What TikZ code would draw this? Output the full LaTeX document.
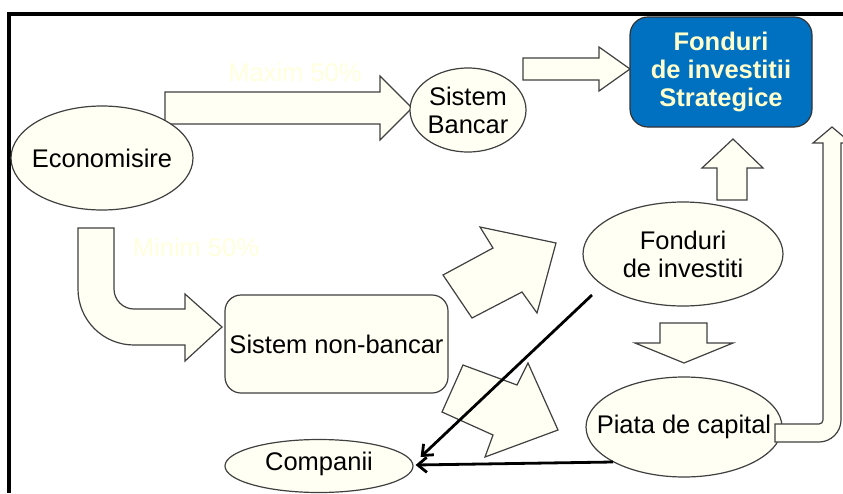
\documentclass[tikz,border=0pt]{standalone}
\usepackage{fontspec}
\setmainfont{Liberation Sans}
\usetikzlibrary{shapes.geometric,arrows.meta,calc}
\definecolor{cream}{RGB}{255,255,243}
\definecolor{edge}{RGB}{64,64,64}
\definecolor{notecol}{RGB}{255,255,222}
\definecolor{fsblue}{RGB}{0,112,192}
\definecolor{fstext}{RGB}{255,255,204}
\begin{document}
\begin{tikzpicture}[x=1pt,y=-1pt,
  every node/.style={font=\fontsize{25.5}{28}\selectfont, align=center, inner sep=0pt},
  bubble/.style={ellipse, draw=edge, fill=cream, line width=1.2pt},
  panel/.style={rectangle, rounded corners=16pt, draw=edge, fill=cream, line width=1.2pt},
  fsbox/.style={rectangle, rounded corners=18pt, draw=black!80, fill=fsblue, line width=1.2pt, text=fstext},
  blockarrow/.style={draw=edge, fill=cream, line width=1.2pt, line join=miter},
  link/.style={draw=black, line width=2.8pt, -{Straight Barb[length=9pt,width=15pt]}},
  note/.style={text=notecol}]
\useasboundingbox (0,0) rectangle (843,493);
\clip (0,0) rectangle (843,493);
\fill[white] (0,0) rectangle (843,493);

% frame
\fill[black] (7,12) rectangle (843,16);
\fill[black] (7,12) rectangle (11,493);

% block arrows
\draw[blockarrow] (165,92) -- (380,92) -- (380,76) -- (412,108) -- (380,140) -- (380,124) -- (165,124) -- cycle;
\draw[blockarrow] (523,58) -- (599,58) -- (599,47) -- (630,69) -- (599,91) -- (599,80) -- (523,80) -- cycle;
\draw[blockarrow] (717,200) -- (717,168) -- (702,168) -- (733,139) -- (763,168) -- (747,168) -- (747,200) -- cycle;
\draw[blockarrow] (660,323) -- (707,323) -- (707,343) -- (733,343) -- (684,363) -- (635,343) -- (660,343) -- cycle;
\draw[blockarrow] (78,228) -- (114,228) -- (114,289) .. controls (114,300) and (123,309) .. (134,309)
  -- (185,309) -- (185,294) -- (222,327) -- (185,361) -- (185,345) -- (134,345)
  .. controls (103,345) and (78,320) .. (78,289) -- cycle;
\draw[blockarrow] (443,275) -- (493,248) -- (480,227) -- (556,243) -- (537,313) -- (522,292) -- (472,318) -- cycle;
\draw[blockarrow] (463,365) -- (517,385) -- (528,363) -- (558,430) -- (485,457) -- (493,435) -- (442,412) -- cycle;

% labels on the arrows
\node[note] (maxl) at (295,72) {Maxim 50\%};
\node[note] (minl) at (196,247) {Minim 50\%};

% nodes
\node[bubble, minimum width=182pt, minimum height=104pt] (eco) at (102,158) {};
\node at (eco) {Economisire};
\node[bubble, minimum width=116pt, minimum height=84pt] (sb) at (468,110) {};
\node at (sb) {Sistem\\Bancar};
\node[fsbox, minimum width=182pt, minimum height=110pt] (fs) at (721,72) {\bfseries Fonduri\\ \bfseries de investitii\\ \bfseries Strategice};
\node[panel, minimum width=223pt, minimum height=98pt] (nb) at (336.5,344) {};
\node at (nb) {Sistem non-bancar};
\node[bubble, minimum width=200pt, minimum height=104pt] (fi) at (683,254) {};
\node at (fi) {Fonduri\\de investiti};
\node[bubble, minimum width=196pt, minimum height=100pt] (pc) at (684,427) {};
\node at (pc) {Piata de capital};
\node[bubble, minimum width=188pt, minimum height=53pt] (comp) at (319,466) {};
\node at ($(comp)+(0,-2)$) {Companii};

% bent arrow from the capital market up to the strategic funds
\draw[blockarrow] (775,424) -- (819,424) .. controls (821.2,424) and (823,422.2) .. (823,420)
  -- (823,143) -- (813,143) -- (832,127) -- (851,143) -- (841,143) -- (841,420)
  .. controls (841,432) and (831,442) .. (819,442) -- (775,442) -- cycle;

% flows to the companies
\coordinate (fiout) at (592,295);
\coordinate (pcout) at (613,462);
\draw[link] (fiout) -- ($(comp.east)+(7,-9)$);
\draw[link] (pcout) -- ($(comp.east)+(2,-1)$);
\end{tikzpicture}
\end{document}
